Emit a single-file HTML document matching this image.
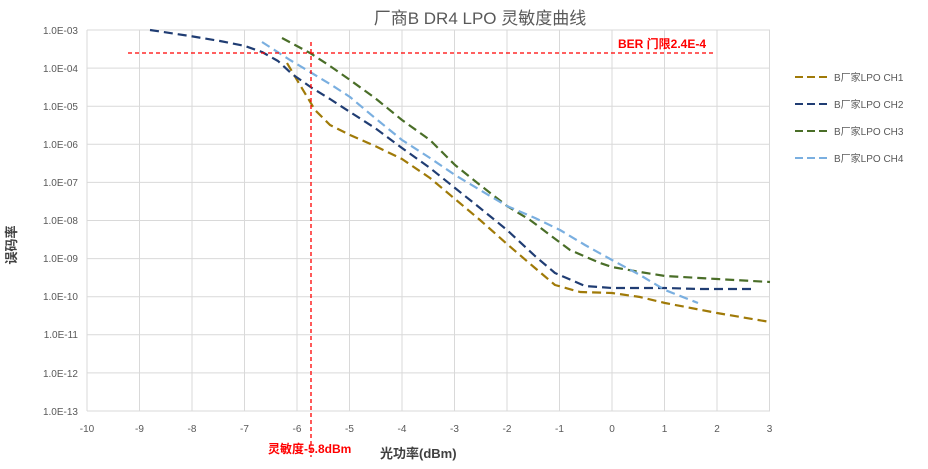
<!DOCTYPE html><html><head><meta charset="utf-8"><style>body{margin:0;background:#fff}svg{display:block}text{font-family:"Liberation Sans","Noto Sans CJK SC",sans-serif}</style></head><body>
<svg width="928" height="469" viewBox="0 0 928 469">
<g stroke="#d9d9d9" stroke-width="1">
<line x1="87" y1="30" x2="87" y2="411"/><line x1="139.5" y1="30" x2="139.5" y2="411"/><line x1="192" y1="30" x2="192" y2="411"/><line x1="244.5" y1="30" x2="244.5" y2="411"/><line x1="297" y1="30" x2="297" y2="411"/><line x1="349.5" y1="30" x2="349.5" y2="411"/><line x1="402" y1="30" x2="402" y2="411"/><line x1="454.5" y1="30" x2="454.5" y2="411"/><line x1="507" y1="30" x2="507" y2="411"/><line x1="559.5" y1="30" x2="559.5" y2="411"/><line x1="612" y1="30" x2="612" y2="411"/><line x1="664.5" y1="30" x2="664.5" y2="411"/><line x1="717" y1="30" x2="717" y2="411"/><line x1="769.5" y1="30" x2="769.5" y2="411"/>
<line x1="87" y1="30" x2="770" y2="30"/><line x1="87" y1="68.1" x2="770" y2="68.1"/><line x1="87" y1="106.2" x2="770" y2="106.2"/><line x1="87" y1="144.3" x2="770" y2="144.3"/><line x1="87" y1="182.4" x2="770" y2="182.4"/><line x1="87" y1="220.5" x2="770" y2="220.5"/><line x1="87" y1="258.6" x2="770" y2="258.6"/><line x1="87" y1="296.7" x2="770" y2="296.7"/><line x1="87" y1="334.8" x2="770" y2="334.8"/><line x1="87" y1="372.9" x2="770" y2="372.9"/><line x1="87" y1="411" x2="770" y2="411"/>
</g>
<g font-size="10" fill="#595959" text-anchor="end">
<text x="78" y="34">1.0E-03</text><text x="78" y="72">1.0E-04</text><text x="78" y="110">1.0E-05</text><text x="78" y="148">1.0E-06</text><text x="78" y="186">1.0E-07</text><text x="78" y="224">1.0E-08</text><text x="78" y="262">1.0E-09</text><text x="78" y="300">1.0E-10</text><text x="78" y="338">1.0E-11</text><text x="78" y="377">1.0E-12</text><text x="78" y="415">1.0E-13</text>
</g>
<g font-size="10" fill="#595959" text-anchor="middle">
<text x="87" y="432">-10</text><text x="139.5" y="432">-9</text><text x="192" y="432">-8</text><text x="244.5" y="432">-7</text><text x="297" y="432">-6</text><text x="349.5" y="432">-5</text><text x="402" y="432">-4</text><text x="454.5" y="432">-3</text><text x="507" y="432">-2</text><text x="559.5" y="432">-1</text><text x="612" y="432">0</text><text x="664.5" y="432">1</text><text x="717" y="432">2</text><text x="769.5" y="432">3</text>
</g>
<g fill="none" stroke-width="2.2" stroke-dasharray="9,5" stroke-linejoin="round">
<polyline stroke="#a07a08" points="287,63 300,85 315,110 330,125 350,135 375,146 402,159 430,178 455,199 480,220 507,244 535,268 555,285 580,292 612,293 640,297 665,303 717,313 770,322"/>
<polyline stroke="#203d73" points="150,30 190,36 220,41 245,46 262,52 278,61 292,74 312,88 330,99 350,112 375,128 402,148 430,168 455,188 480,208 507,230 535,256 555,273 585,286 612,288 665,288 700,289 755,289"/>
<polyline stroke="#4a6e28" points="282,38 310,53 330,66 350,80 375,98 402,120 430,140 455,165 480,185 507,206 530,220 550,235 570,250 600,263 612,267 640,272 665,276 717,279 770,282"/>
<polyline stroke="#7aafe0" points="262,42 290,60 310,72 330,84 350,97 375,118 402,140 430,158 455,175 480,190 507,206 535,218 560,230 585,245 612,260 640,275 665,290 698,303"/>
</g>
<g stroke="#ff0000" stroke-width="1.3" stroke-dasharray="4,3" fill="none">
<line x1="128" y1="53" x2="716" y2="53"/>
<line x1="311" y1="42" x2="311" y2="457"/>
</g>
<text x="618" y="48" font-size="12" font-weight="bold" fill="#ff0000">BER 门限2.4E-4</text>
<text x="268" y="453" font-size="12" font-weight="bold" fill="#ff0000">灵敏度-5.8dBm</text>
<text x="380" y="458" font-size="13" font-weight="bold" fill="#404040">光功率(dBm)</text>
<text transform="translate(16,245) rotate(-90)" font-size="13" font-weight="bold" fill="#404040" text-anchor="middle">误码率</text>
<text x="480" y="24" font-size="17" fill="#595959" text-anchor="middle">厂商B DR4 LPO 灵敏度曲线</text>
<g stroke-width="2" stroke-dasharray="8,4">
<line x1="795" y1="77" x2="830" y2="77" stroke="#a07a08"/>
<line x1="795" y1="104" x2="830" y2="104" stroke="#203d73"/>
<line x1="795" y1="131" x2="830" y2="131" stroke="#4a6e28"/>
<line x1="795" y1="158" x2="830" y2="158" stroke="#7aafe0"/>
</g>
<g font-size="10" fill="#595959">
<text x="834" y="81">B厂家LPO CH1</text><text x="834" y="108">B厂家LPO CH2</text><text x="834" y="135">B厂家LPO CH3</text><text x="834" y="162">B厂家LPO CH4</text>
</g>
</svg>
</body></html>
